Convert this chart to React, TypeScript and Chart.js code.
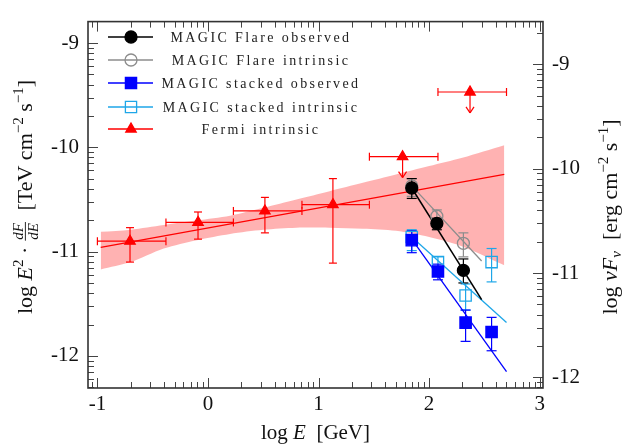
import { useEffect, useRef } from "react";
import { Chart, registerables } from "chart.js";

Chart.register(...registerables);

// ---------- data (log units) ----------
const xTicks = [-1, 0, 1, 2, 3];
const yTicks = [-12, -11, -10, -9];
const y2Ticks = [-12, -11, -10, -9];

// Fermi intrinsic
const fermiBinEdges = [-1.0, -0.38, 0.23, 0.85, 1.46, 2.08, 2.7];
const fermiX = [-0.705, -0.09, 0.515, 1.13];
const fermiY = [-10.9, -10.72, -10.61, -10.55];
const fermiHi = [-10.77, -10.62, -10.48, -10.3];
const fermiLo = [-11.1, -10.88, -10.82, -11.11];
const fermiUlX = [1.76, 2.37];
const fermiUlY = [-10.09, -9.47];
const fermiFitX = [-0.97, 2.68];
const fermiFitY = [-10.96, -10.26];
const bandX = [-0.97, -0.7, -0.4, -0.1, 0.2, 0.5, 0.8, 1.1, 1.4, 1.7, 2.0, 2.3, 2.68];
const bandUpper = [-10.81, -10.79, -10.745, -10.7, -10.655, -10.58, -10.5, -10.42, -10.34, -10.26, -10.18, -10.1, -9.98];
const bandLower = [-11.17, -11.1, -10.97, -10.89, -10.83, -10.79, -10.77, -10.77, -10.78, -10.8, -10.86, -10.95, -11.13];

// MAGIC Flare observed
const flareObsX = [1.843, 2.07, 2.31];
const flareObsY = [-10.39, -10.73, -11.18];
const flareObsHi = [-10.3, -10.68, -11.07];
const flareObsLo = [-10.49, -10.79, -11.3];
const flareObsFitX = [1.843, 2.475];
const flareObsFitY = [-10.39, -11.46];

// MAGIC Flare intrinsic
const flareIntX = [1.843, 2.07, 2.31];
const flareIntY = [-10.37, -10.66, -10.92];
const flareIntHi = [-10.3, -10.6, -10.82];
const flareIntLo = [-10.47, -10.72, -11.05];
const flareIntFitX = [1.843, 2.475];
const flareIntFitY = [-10.37, -11.09];

// MAGIC stacked observed
const stackObsX = [1.843, 2.08, 2.33, 2.565];
const stackObsY = [-10.89, -11.19, -11.68, -11.77];
const stackObsHi = [-10.8, -11.12, -11.56, -11.63];
const stackObsLo = [-11.01, -11.27, -11.86, -11.95];
const stackObsFitX = [1.843, 2.7];
const stackObsFitY = [-10.88, -12.15];

// MAGIC stacked intrinsic
const stackIntX = [1.843, 2.08, 2.33, 2.565];
const stackIntY = [-10.86, -11.1, -11.42, -11.1];
const stackIntHi = [-10.79, -11.05, -11.31, -10.97];
const stackIntLo = [-10.99, -11.19, -11.56, -11.29];
const stackIntFitX = [1.843, 2.7];
const stackIntFitY = [-10.86, -11.68];

const legendLabels = [
  "MAGIC Flare observed",
  "MAGIC Flare intrinsic",
  "MAGIC stacked observed",
  "MAGIC stacked intrinsic",
  "Fermi intrinsic",
];

// axis ranges
const X_MIN = -1.085;
const X_MAX = 3.03;
const Y_MIN = -12.307;
const Y_MAX = -8.795;
const TEV_TO_ERG = Math.log10(1.602);

// ---------- styles ----------
const FAM = '"Liberation Serif", "Times New Roman", serif';
const RED = "#ff0000";
const BLACK = "#000000";
const GRAY = "#8c8c8c";
const BLUE = "#0000ff";
const CYAN = "#1ea6e8";

const pts = (xs: number[], ys: number[]) => xs.map((x, i) => ({ x, y: ys[i] }));

type Run = { t: string; it?: boolean; sz?: number; dy?: number } | { num: string; den: string; sz: number };

function drawRich(ctx: CanvasRenderingContext2D, runs: Run[], cx: number, cy: number, rot: number, base: number) {
  ctx.save();
  ctx.translate(cx, cy);
  ctx.rotate(rot);
  ctx.fillStyle = "#111";
  ctx.strokeStyle = "#111";
  ctx.textBaseline = "alphabetic";
  ctx.textAlign = "left";
  const widths: number[] = [];
  let total = 0;
  for (const r of runs) {
    let w = 0;
    if ("num" in r) {
      ctx.font = `italic ${r.sz}px ${FAM}`;
      w = Math.max(ctx.measureText(r.num).width, ctx.measureText(r.den).width) + 3;
    } else {
      ctx.font = `${r.it ? "italic " : ""}${r.sz ?? base}px ${FAM}`;
      w = ctx.measureText(r.t).width;
    }
    widths.push(w);
    total += w;
  }
  let x = -total / 2;
  runs.forEach((r, i) => {
    const w = widths[i];
    if ("num" in r) {
      ctx.font = `italic ${r.sz}px ${FAM}`;
      const ly = -base * 0.3;
      ctx.textAlign = "center";
      ctx.fillText(r.num, x + w / 2, ly - 2.5);
      ctx.fillText(r.den, x + w / 2, ly + r.sz * 0.72 + 1.5);
      ctx.textAlign = "left";
      ctx.lineWidth = 0.9;
      ctx.beginPath();
      ctx.moveTo(x + 0.5, ly);
      ctx.lineTo(x + w - 0.5, ly);
      ctx.stroke();
    } else {
      ctx.font = `${r.it ? "italic " : ""}${r.sz ?? base}px ${FAM}`;
      ctx.fillText(r.t, x, r.dy ?? 0);
    }
    x += w;
  });
  ctx.restore();
}

function minorVals(min: number, max: number) {
  const out: number[] = [];
  for (let d = Math.floor(min) - 1; d <= Math.ceil(max); d++) {
    for (let k = 2; k <= 9; k++) {
      const v = d + Math.log10(k);
      if (v > min && v < max) out.push(v);
    }
  }
  return out;
}

function drawMarker(ctx: CanvasRenderingContext2D, kind: string, x: number, y: number, color: string, filled: boolean) {
  ctx.save();
  ctx.strokeStyle = color;
  ctx.fillStyle = color;
  ctx.lineWidth = 1.3;
  ctx.beginPath();
  if (kind === "circle") {
    ctx.arc(x, y, 6, 0, Math.PI * 2);
  } else if (kind === "rect") {
    ctx.rect(x - 5.6, y - 5.6, 11.2, 11.2);
  } else {
    const r = 6;
    ctx.moveTo(x, y - r);
    ctx.lineTo(x + r * 0.866, y + r * 0.5);
    ctx.lineTo(x - r * 0.866, y + r * 0.5);
    ctx.closePath();
  }
  if (filled) ctx.fill();
  ctx.stroke();
  ctx.restore();
}

const decorPlugin = {
  id: "decor",
  beforeDatasetsDraw(chart: any) {
    const { ctx } = chart;
    const xs = chart.scales.x;
    const ys = chart.scales.y;
    const X = (v: number) => xs.getPixelForValue(v);
    const Y = (v: number) => ys.getPixelForValue(v);
    const line = (x1: number, y1: number, x2: number, y2: number) => {
      ctx.beginPath();
      ctx.moveTo(x1, y1);
      ctx.lineTo(x2, y2);
      ctx.stroke();
    };
    const vbar = (x: number, lo: number, hi: number, cap: number) => {
      const px = X(x), a = Y(lo), b = Y(hi);
      line(px, a, px, b);
      line(px - cap, a, px + cap, a);
      line(px - cap, b, px + cap, b);
    };
    const hbar = (x1: number, x2: number, y: number, cap: number) => {
      const py = Y(y), a = X(x1), b = X(x2);
      line(a, py, b, py);
      line(a, py - cap, a, py + cap);
      line(b, py - cap, b, py + cap);
    };
    ctx.save();
    ctx.lineWidth = 1.2;
    // Fermi
    ctx.strokeStyle = RED;
    fermiX.forEach((x, i) => {
      vbar(x, fermiLo[i], fermiHi[i], 4);
      hbar(fermiBinEdges[i], fermiBinEdges[i + 1], fermiY[i], 4);
    });
    fermiUlX.forEach((x, i) => {
      const k = fermiX.length + i;
      hbar(fermiBinEdges[k], fermiBinEdges[k + 1], fermiUlY[i], 4);
      const px = X(x), top = Y(fermiUlY[i]), tip = Y(fermiUlY[i] - 0.2);
      line(px, top, px, tip);
      line(px - 4, tip - 6, px, tip);
      line(px + 4, tip - 6, px, tip);
    });
    const mag: [number[], number[], number[], string][] = [
      [stackIntX, stackIntLo, stackIntHi, CYAN],
      [stackObsX, stackObsLo, stackObsHi, BLUE],
      [flareIntX, flareIntLo, flareIntHi, GRAY],
      [flareObsX, flareObsLo, flareObsHi, BLACK],
    ];
    mag.forEach(([xsArr, lo, hi, c]) => {
      ctx.strokeStyle = c;
      xsArr.forEach((x, i) => vbar(x, lo[i], hi[i], 5));
    });
    ctx.restore();
  },
  afterDraw(chart: any) {
    const { ctx, chartArea } = chart;
    const { left, right, top, bottom } = chartArea;
    const xs = chart.scales.x;
    const ys = chart.scales.y;
    const y2 = chart.scales.y2;
    ctx.save();
    // ticks
    ctx.strokeStyle = "#444";
    ctx.lineWidth = 1;
    const tk = (x1: number, y1: number, x2: number, y2p: number) => {
      ctx.beginPath();
      ctx.moveTo(x1, y1);
      ctx.lineTo(x2, y2p);
      ctx.stroke();
    };
    const MAJ = 10, MIN = 6;
    xTicks.forEach((v) => {
      const p = Math.round(xs.getPixelForValue(v)) + 0.5;
      tk(p, bottom, p, bottom - MAJ);
      tk(p, top, p, top + MAJ);
    });
    minorVals(X_MIN, X_MAX).forEach((v) => {
      const p = Math.round(xs.getPixelForValue(v)) + 0.5;
      tk(p, bottom, p, bottom - MIN);
      tk(p, top, p, top + MIN);
    });
    yTicks.forEach((v) => {
      const p = Math.round(ys.getPixelForValue(v)) + 0.5;
      tk(left, p, left + MAJ, p);
    });
    minorVals(Y_MIN, Y_MAX).forEach((v) => {
      const p = Math.round(ys.getPixelForValue(v)) + 0.5;
      tk(left, p, left + MIN, p);
    });
    y2Ticks.forEach((v) => {
      const p = Math.round(y2.getPixelForValue(v)) + 0.5;
      tk(right, p, right - MAJ, p);
    });
    minorVals(Y_MIN + TEV_TO_ERG, Y_MAX + TEV_TO_ERG).forEach((v) => {
      const p = Math.round(y2.getPixelForValue(v)) + 0.5;
      tk(right, p, right - MIN, p);
    });
    // frame
    ctx.strokeStyle = "#333";
    ctx.lineWidth = 1.6;
    ctx.strokeRect(left, top, right - left, bottom - top);

    // legend
    const rows = [37, 60, 83, 107, 129];
    const specs: [string, string, boolean][] = [
      ["circle", BLACK, true],
      ["circle", GRAY, false],
      ["rect", BLUE, true],
      ["rect", CYAN, false],
      ["tri", RED, true],
    ];
    rows.forEach((ry, i) => {
      const [kind, c, f] = specs[i];
      ctx.strokeStyle = c;
      ctx.lineWidth = 1.5;
      ctx.beginPath();
      ctx.moveTo(108, ry);
      ctx.lineTo(153, ry);
      ctx.stroke();
      if (!f) {
        ctx.fillStyle = "#fff";
      }
      drawMarker(ctx, kind, 131, ry, c, f);
      ctx.fillStyle = "#222";
      ctx.font = `14px ${FAM}`;
      (ctx as any).letterSpacing = "2.4px";
      ctx.textAlign = "center";
      ctx.textBaseline = "middle";
      ctx.fillText(legendLabels[i], 261, ry + 1);
      (ctx as any).letterSpacing = "0px";
    });
    ctx.restore();

    // axis titles
    drawRich(
      ctx,
      [
        { t: "log " },
        { t: "E", it: true },
        { t: "2", sz: 15, dy: -9 },
        { t: " · " },
        { num: "dF", den: "dE", sz: 15 },
        { t: "  [TeV cm" },
        { t: "−2", sz: 15, dy: -9 },
        { t: " s" },
        { t: "−1", sz: 15, dy: -9 },
        { t: "]" },
      ],
      32,
      197,
      -Math.PI / 2,
      22
    );
    drawRich(
      ctx,
      [
        { t: "log " },
        { t: "νF", it: true },
        { t: "ν", it: true, sz: 15, dy: 4 },
        { t: "  [erg cm" },
        { t: "−2", sz: 15, dy: -9 },
        { t: " s" },
        { t: "−1", sz: 15, dy: -9 },
        { t: "]" },
      ],
      617,
      217,
      -Math.PI / 2,
      22
    );
    drawRich(
      ctx,
      [{ t: "log " }, { t: "E", it: true }, { t: "  [GeV]" }],
      (left + right) / 2,
      439,
      0,
      21
    );
  },
};

export default function App() {
  const ref = useRef<HTMLCanvasElement>(null);
  useEffect(() => {
    const canvas = ref.current!;
    const tickFont = { family: FAM, size: 21 };
    const lineDs = (data: any, color: string, width = 1.2) => ({
      data,
      borderColor: color,
      borderWidth: width,
      pointRadius: 0,
      showLine: true,
      fill: false,
      tension: 0,
    });
    const markDs = (data: any, style: string, color: string, filled: boolean, radius: number) => ({
      data,
      showLine: false,
      pointStyle: style,
      pointRadius: radius,
      pointBackgroundColor: filled ? color : "rgba(0,0,0,0)",
      pointBorderColor: color,
      pointBorderWidth: 1.3,
      borderColor: color,
      backgroundColor: color,
    });
    const chart = new Chart(canvas, {
      type: "line",
      data: {
        datasets: [
          markDs(pts(flareObsX, flareObsY), "circle", BLACK, true, 6),
          markDs(pts(flareIntX, flareIntY), "circle", GRAY, false, 6),
          markDs(pts(stackObsX, stackObsY), "rect", BLUE, true, 8),
          markDs(pts(stackIntX, stackIntY), "rect", CYAN, false, 8),
          markDs(pts(fermiX, fermiY), "triangle", RED, true, 6),
          markDs(pts(fermiUlX, fermiUlY), "triangle", RED, true, 6),
          lineDs(pts(flareObsFitX, flareObsFitY), BLACK, 1.5),
          lineDs(pts(flareIntFitX, flareIntFitY), GRAY, 1.3),
          lineDs(pts(stackObsFitX, stackObsFitY), BLUE, 1.3),
          lineDs(pts(stackIntFitX, stackIntFitY), CYAN, 1.3),
          lineDs(pts(fermiFitX, fermiFitY), RED, 1.3),
          {
            data: pts(bandX, bandUpper),
            borderWidth: 0,
            borderColor: "rgba(0,0,0,0)",
            pointRadius: 0,
            showLine: true,
            fill: "+1",
            backgroundColor: "rgba(255,0,0,0.3)",
            tension: 0.3,
          },
          {
            data: pts(bandX, bandLower),
            borderWidth: 0,
            borderColor: "rgba(0,0,0,0)",
            pointRadius: 0,
            showLine: true,
            fill: false,
            tension: 0.3,
          },
        ] as any,
      },
      options: {
        responsive: false,
        animation: false,
        events: [],
        layout: { padding: { top: 11, left: 0, right: 0, bottom: 0 } },
        plugins: {
          legend: { display: false },
          tooltip: { enabled: false },
          filler: { drawTime: "beforeDatasetsDraw" },
        } as any,
        scales: {
          x: {
            type: "linear",
            min: X_MIN,
            max: X_MAX,
            grid: { display: false, drawTicks: false },
            border: { display: false },
            ticks: { font: tickFont, color: "#111", padding: 4, maxRotation: 0, autoSkip: false },
            afterBuildTicks: (s: any) => {
              s.ticks = xTicks.map((v) => ({ value: v }));
            },
            afterFit: (s: any) => {
              s.height = 57;
            },
          },
          y: {
            type: "linear",
            position: "left",
            min: Y_MIN,
            max: Y_MAX,
            grid: { display: false, drawTicks: false },
            border: { display: false },
            ticks: { font: tickFont, color: "#111", padding: 9, autoSkip: false },
            afterBuildTicks: (s: any) => {
              s.ticks = yTicks.map((v) => ({ value: v }));
            },
            afterFit: (s: any) => {
              s.width = 88;
            },
          },
          y2: {
            type: "linear",
            position: "right",
            min: Y_MIN + TEV_TO_ERG,
            max: Y_MAX + TEV_TO_ERG,
            grid: { display: false, drawTicks: false },
            border: { display: false },
            ticks: { font: tickFont, color: "#111", padding: 9, autoSkip: false },
            afterBuildTicks: (s: any) => {
              s.ticks = y2Ticks.map((v) => ({ value: v }));
            },
            afterFit: (s: any) => {
              s.width = 79;
            },
          },
        } as any,
      },
      plugins: [decorPlugin as any],
    });
    return () => chart.destroy();
  }, []);
  return (
    <div style={{ position: "fixed", left: 0, top: 0, width: 622, height: 445, background: "#fff" }}>
      <canvas ref={ref} width={622} height={445} style={{ width: 622, height: 445, display: "block" }} />
    </div>
  );
}
